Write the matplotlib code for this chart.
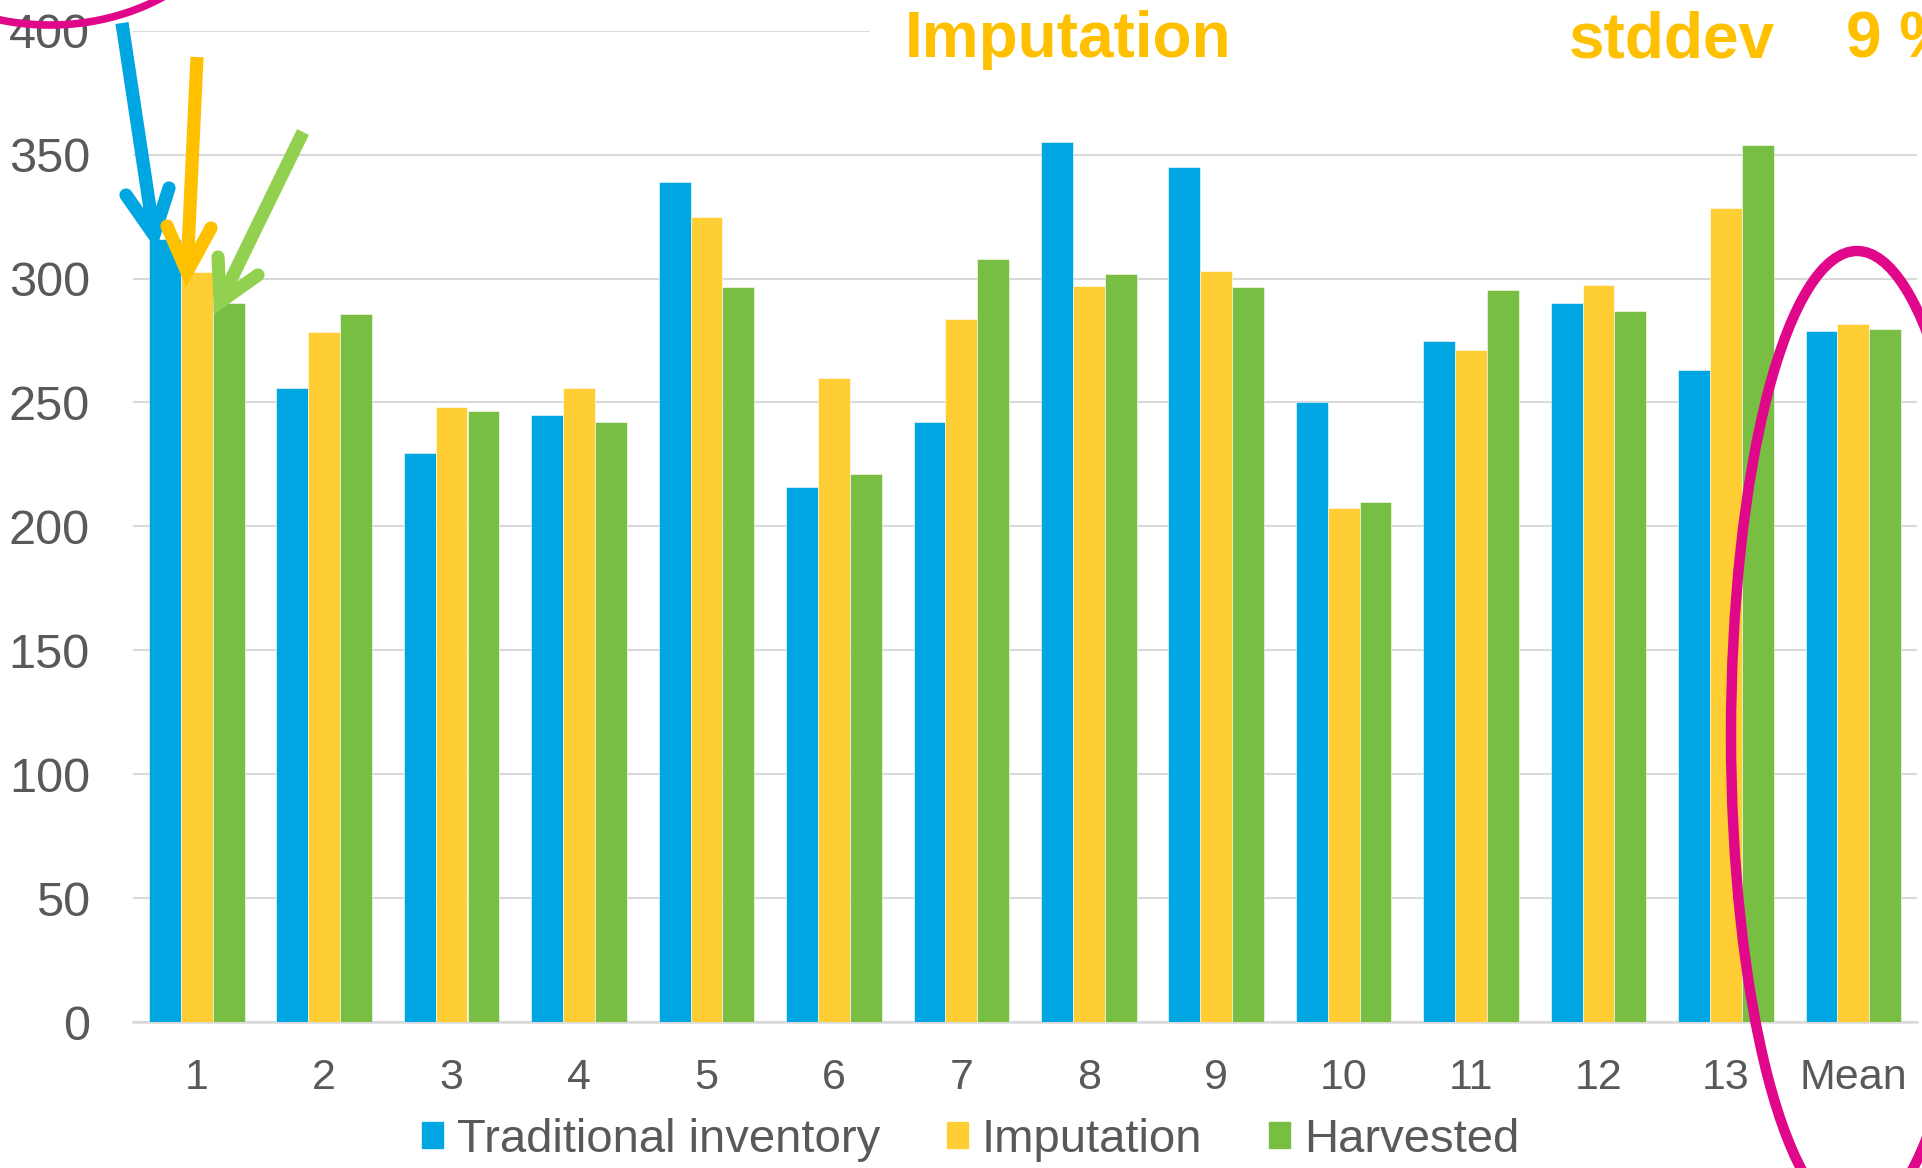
import numpy as np
import matplotlib
matplotlib.use('Agg')
import matplotlib.pyplot as plt
from matplotlib.patches import Ellipse, Patch, Rectangle

plt.rcParams['font.family'] = ['Liberation Sans', 'DejaVu Sans']

categories = ['1', '2', '3', '4', '5', '6', '7', '8', '9', '10', '11', '12', '13', 'Mean']
traditional = [316, 256, 229.5, 245, 339, 216, 242, 355, 345, 250, 275, 290, 263, 279]
imputation = [302.5, 278.5, 248, 256, 325, 260, 283.5, 297, 303, 207.5, 271, 297.5, 328.5, 281.5]
harvested = [290, 285.5, 246.5, 242, 296.5, 221, 308, 302, 296.5, 210, 295.5, 287, 354, 279.5]
series_names = ['Traditional inventory', 'Imputation', 'Harvested']
yticks = [0, 50, 100, 150, 200, 250, 300, 350, 400]

BLUE, YELLOW, GREEN = '#00A6E1', '#FFCD34', '#77BE43'
GREY, GRID = '#595959', '#D9D9D9'
GOLD, MAGENTA = '#FFC000', '#E0078A'

W, H = 1922, 1168
fig = plt.figure(figsize=(W / 100, H / 100), dpi=100)
ax = fig.add_axes([133 / W, 145.7 / H, (1917 - 133) / W, (1022.3 - 30.6) / H])

x = np.arange(len(categories))
bw = 0.25
for off, vals, col, name in zip((-bw, 0, bw), (traditional, imputation, harvested),
                                (BLUE, YELLOW, GREEN), series_names):
    ax.bar(x + off, vals, bw, color=col, edgecolor='white', linewidth=0.4,
           label=name, zorder=3)

ax.set_xlim(-0.5, len(categories) - 0.5)
ax.set_ylim(0, 400)
ax.set_yticks(yticks)
ax.set_xticks(x)
ax.set_xticklabels(categories)
ax.yaxis.grid(True, color=GRID, lw=1.5, zorder=0)
ax.set_axisbelow(True)
for s in ('top', 'right', 'left'):
    ax.spines[s].set_visible(False)
ax.spines['bottom'].set_color(GRID)
ax.spines['bottom'].set_linewidth(1.8)
ax.tick_params(axis='x', length=0, pad=26, labelsize=31, labelcolor=GREY)
ax.tick_params(axis='y', length=0, pad=31, labelsize=35, labelcolor=GREY)

handles = [Patch(color=c, label=n) for c, n in zip((BLUE, YELLOW, GREEN), series_names)]
fig.legend(handles=handles, loc='center', bbox_to_anchor=(0.505, 0.024), ncol=3,
           frameon=False, fontsize=34, labelcolor=GREY, handlelength=0.45,
           handleheight=0.45, handletextpad=0.3, columnspacing=1.4,
           borderpad=0, borderaxespad=0)

# overlay in pixel coordinates for the hand-drawn callouts
ov = fig.add_axes([0, 0, 1, 1], zorder=5)
ov.set_xlim(0, W)
ov.set_ylim(H, 0)
ov.axis('off')
ov.patch.set_alpha(0)

ov.add_patch(Rectangle((870, 0), W - 870, 62, color='white', zorder=1))
for tx, txt in ((905, 'Imputation'), (1569, 'stddev'), (1846, '9 %')):
    ov.text(tx, 57, txt, color=GOLD, fontsize=46, fontweight='bold',
            va='baseline', ha='left', zorder=2)


def arrow(shaft_start, tip, arm1, arm2, color):
    ov.plot([shaft_start[0], tip[0]], [shaft_start[1], tip[1]], solid_capstyle='butt',
            color=color, lw=9.5, zorder=3)
    ov.plot([arm1[0], tip[0], arm2[0]], [arm1[1], tip[1], arm2[1]], color=color,
            lw=9.5, solid_capstyle='round', solid_joinstyle='miter', zorder=3)


arrow((122, 23), (154, 235), (126, 195), (169, 188), '#00A6E1')
arrow((197, 57), (187, 272), (167, 226), (211, 228), GOLD)
arrow((303, 132), (220, 302), (218, 257), (258, 275), '#92D050')

ov.add_patch(Ellipse((50, -135), 400, 320, fill=False, ec=MAGENTA, lw=5.5, zorder=3))
ov.add_patch(Ellipse((1857, 735), 252, 968, fill=False, ec=MAGENTA, lw=7.5, zorder=3))

fig.savefig('out.png', dpi=100)
